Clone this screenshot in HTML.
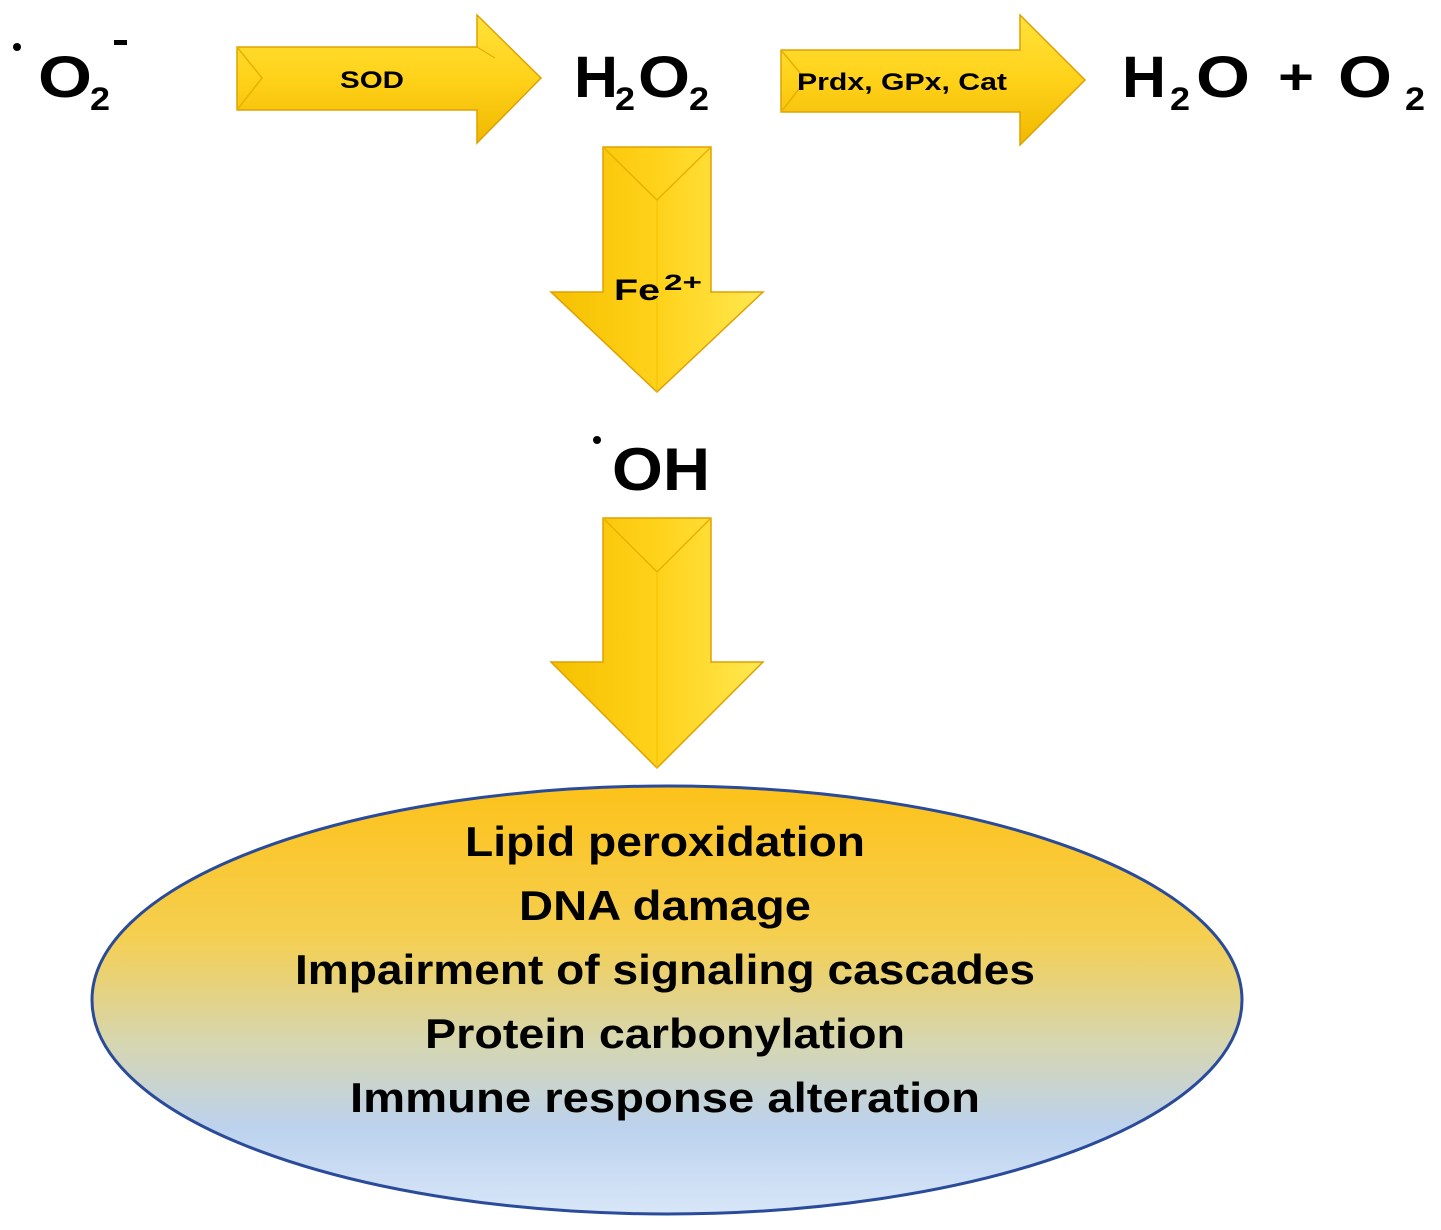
<!DOCTYPE html>
<html><head><meta charset="utf-8"><style>
html,body{margin:0;padding:0;background:#fff;}
svg{display:block;}
text{font-family:"Liberation Sans",sans-serif;font-weight:bold;fill:#000;}
</style></head><body>
<svg width="1441" height="1230" viewBox="0 0 1441 1230" xmlns="http://www.w3.org/2000/svg">
<defs>
<linearGradient id="y" x1="0" y1="0" x2="0" y2="1">
<stop offset="0" stop-color="#ffe23a"/><stop offset="0.5" stop-color="#ffd21a"/><stop offset="1" stop-color="#f0b800"/>
</linearGradient>
<linearGradient id="yv" x1="0" y1="0" x2="1" y2="0">
<stop offset="0" stop-color="#f5c000"/><stop offset="0.5" stop-color="#ffd21a"/><stop offset="1" stop-color="#ffe850"/>
</linearGradient>
<linearGradient id="el" x1="0" y1="0" x2="0" y2="1">
<stop offset="0" stop-color="#fdc21a"/><stop offset="0.35" stop-color="#f5cf50"/><stop offset="0.6" stop-color="#d6d6b0"/><stop offset="0.8" stop-color="#bcd2ee"/><stop offset="1" stop-color="#d8e6f8"/>
</linearGradient>
</defs>

<!-- SOD arrow -->
<polygon points="237,47 477,47 477,15 541,78 477,143 477,110 237,110" fill="url(#y)" stroke="#e0a000" stroke-width="1.5"/>
<polyline points="237,47 262,78 237,110" fill="none" stroke="#e8b000" stroke-width="1.5"/>
<line x1="477" y1="47" x2="495" y2="58" stroke="#e0a000"/>
<text x="372" y="88" font-size="24" text-anchor="middle" textLength="64" lengthAdjust="spacingAndGlyphs">SOD</text>

<!-- Prdx arrow -->
<polygon points="781,50 1020,50 1020,15 1085,80 1020,145 1020,112 781,112" fill="url(#y)" stroke="#e0a000" stroke-width="1.5"/>
<polyline points="781,50 806,80 781,112" fill="none" stroke="#e8b000" stroke-width="1.5"/>
<text x="902" y="90" font-size="24" text-anchor="middle" textLength="210" lengthAdjust="spacingAndGlyphs">Prdx, GPx, Cat</text>

<!-- down arrow 1 -->
<polygon points="603,147 711,147 711,292 763,292 657,392 551,292 603,292" fill="url(#yv)" stroke="#e0a000" stroke-width="1.5"/>
<polyline points="603,147 657,200 711,147" fill="none" stroke="#e8b000" stroke-width="1.5"/>
<line x1="657" y1="200" x2="657" y2="392" stroke="#f0c000" stroke-width="1"/>
<text x="614" y="300" font-size="30" textLength="46" lengthAdjust="spacingAndGlyphs">Fe</text>
<text x="664" y="290" font-size="22" textLength="38" lengthAdjust="spacingAndGlyphs">2+</text>

<!-- down arrow 2 -->
<polygon points="603,518 711,518 711,662 763,662 657,768 551,662 603,662" fill="url(#yv)" stroke="#e0a000" stroke-width="1.5"/>
<polyline points="603,518 657,572 711,518" fill="none" stroke="#e8b000" stroke-width="1.5"/>
<line x1="657" y1="572" x2="657" y2="768" stroke="#f0c000" stroke-width="1"/>

<!-- species -->
<circle cx="17" cy="47" r="4" fill="#000"/>
<text x="38" y="97" font-size="58" textLength="54" lengthAdjust="spacingAndGlyphs">O</text>
<text x="90" y="110" font-size="32" textLength="20" lengthAdjust="spacingAndGlyphs">2</text>
<rect x="114" y="40" width="13" height="5" fill="#000"/>

<text x="574" y="97" font-size="58" textLength="44" lengthAdjust="spacingAndGlyphs">H</text>
<text x="615" y="110" font-size="32" textLength="20" lengthAdjust="spacingAndGlyphs">2</text>
<text x="638" y="97" font-size="58" textLength="52" lengthAdjust="spacingAndGlyphs">O</text>
<text x="689" y="110" font-size="32" textLength="20" lengthAdjust="spacingAndGlyphs">2</text>

<text x="1122" y="97" font-size="58" textLength="44" lengthAdjust="spacingAndGlyphs">H</text>
<text x="1170" y="110" font-size="32" textLength="20" lengthAdjust="spacingAndGlyphs">2</text>
<text x="1196" y="97" font-size="58" textLength="54" lengthAdjust="spacingAndGlyphs">O</text>
<text x="1278" y="94" font-size="50" textLength="36" lengthAdjust="spacingAndGlyphs">+</text>
<text x="1338" y="97" font-size="58" textLength="54" lengthAdjust="spacingAndGlyphs">O</text>
<text x="1405" y="110" font-size="32" textLength="20" lengthAdjust="spacingAndGlyphs">2</text>

<circle cx="597" cy="440" r="4" fill="#000"/>
<text x="612" y="490" font-size="60" textLength="98" lengthAdjust="spacingAndGlyphs">OH</text>

<!-- ellipse -->
<ellipse cx="667" cy="1000" rx="575" ry="214" fill="url(#el)" stroke="#2a4a9a" stroke-width="3"/>
<g font-size="42" text-anchor="middle" fill="#111">
<text x="665" y="856" textLength="400" lengthAdjust="spacingAndGlyphs">Lipid peroxidation</text>
<text x="665" y="920" textLength="292" lengthAdjust="spacingAndGlyphs">DNA damage</text>
<text x="665" y="984" textLength="740" lengthAdjust="spacingAndGlyphs">Impairment of signaling cascades</text>
<text x="665" y="1048" textLength="480" lengthAdjust="spacingAndGlyphs">Protein carbonylation</text>
<text x="665" y="1112" textLength="630" lengthAdjust="spacingAndGlyphs">Immune response alteration</text>
</g>
</svg>
</body></html>
